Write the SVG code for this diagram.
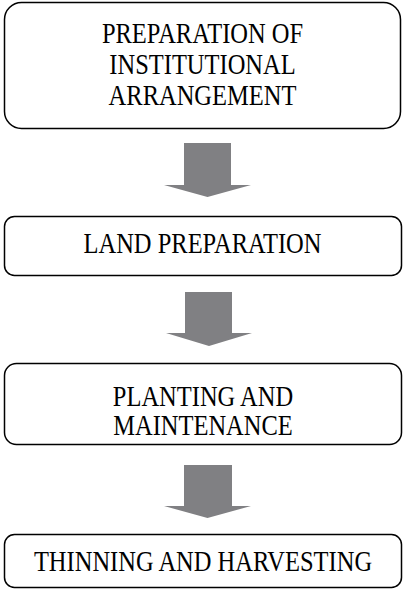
<svg xmlns="http://www.w3.org/2000/svg" width="404" height="589" viewBox="0 0 404 589">
<style>
.box{fill:#fff;stroke:#000;stroke-width:1.5}
.lbl{font-family:"Liberation Serif","Times New Roman",serif;font-size:28.5px;fill:#000;text-anchor:middle}
.arr{fill:#808083;stroke:none}
</style>
<rect width="404" height="589" fill="#fff"/>
<g id="n1">
<rect class="box" x="4.5" y="2.5" width="396" height="126" rx="17"/>
<text class="lbl" transform="translate(202.5,42.5) scale(0.86,1)">PREPARATION OF</text>
<text class="lbl" transform="translate(202.5,74) scale(0.86,1)">INSTITUTIONAL</text>
<text class="lbl" transform="translate(202.5,104.5) scale(0.86,1)">ARRANGEMENT</text>
</g>
<g id="n2">
<rect class="box" x="4.5" y="216.5" width="397" height="59" rx="10"/>
<text class="lbl" transform="translate(202.5,253.3) scale(0.86,1)">LAND PREPARATION</text>
</g>
<g id="n3">
<rect class="box" x="4.5" y="363.5" width="397" height="81" rx="12"/>
<text class="lbl" transform="translate(203,406) scale(0.86,1)">PLANTING AND</text>
<text class="lbl" transform="translate(203,435) scale(0.86,1)">MAINTENANCE</text>
</g>
<g id="n4">
<rect class="box" x="4.5" y="534.5" width="397" height="53" rx="10"/>
<text class="lbl" transform="translate(203,571) scale(0.86,1)">THINNING AND HARVESTING</text>
</g>
<g id="connectors">
<polygon class="arr" points="184,143 231,143 231,185 251,185 207.5,197 164,185 184,185"/>
<polygon class="arr" points="185,292 232,292 232,333 252,333 209,346 166,333 185,333"/>
<polygon class="arr" points="184,465 232,465 232,506 251,506 207.5,518 164,506 184,506"/>
</g>
</svg>
